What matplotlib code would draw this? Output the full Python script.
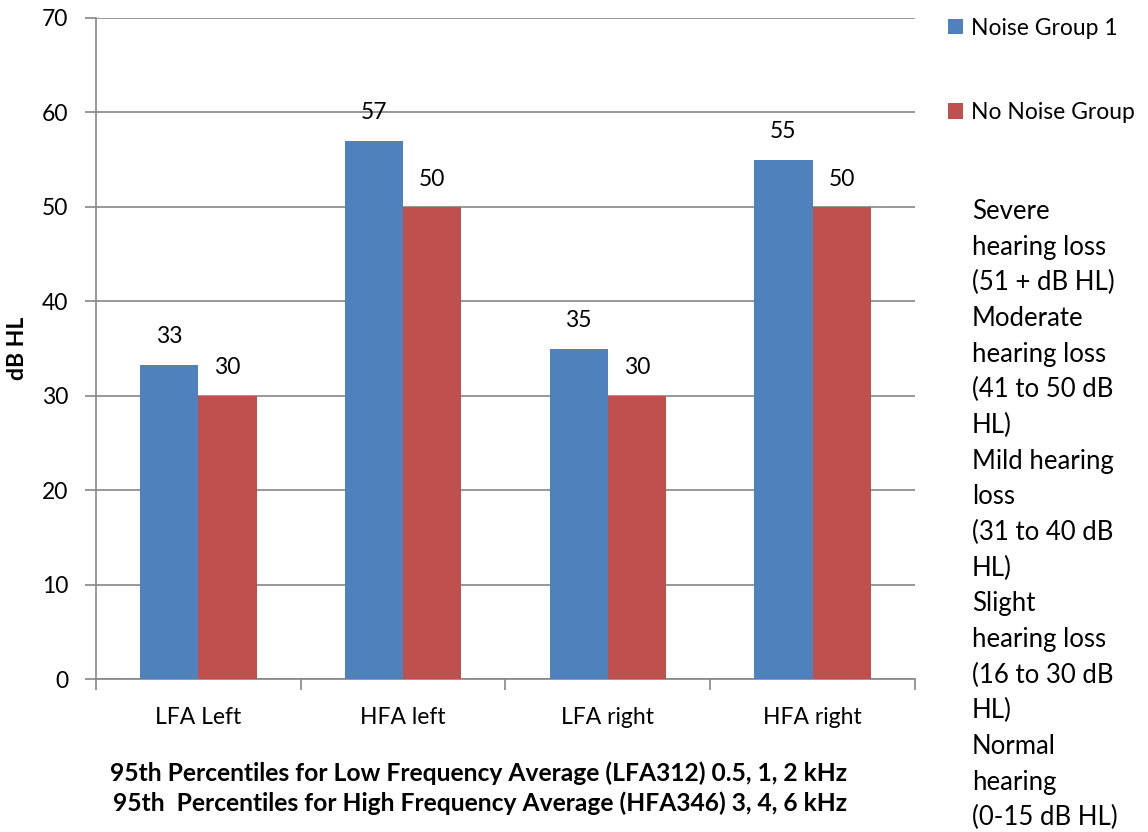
import matplotlib
matplotlib.use("Agg")
import matplotlib.pyplot as plt
import numpy as np

plt.rcParams['font.family'] = ['Lato', 'DejaVu Sans']

# data
categories = ['LFA Left', 'HFA left', 'LFA right', 'HFA right']
noise_group = [33.3, 57, 35, 55]
no_noise_group = [30, 50, 30, 50]
noise_labels = ['33', '57', '35', '55']
no_noise_labels = ['30', '50', '30', '50']
series_names = ['Noise Group 1', 'No Noise Group']
yticks = [0, 10, 20, 30, 40, 50, 60, 70]
severity_text = ("Severe\nhearing loss\n(51 + dB HL)\nModerate\nhearing loss\n(41 to 50 dB\nHL)\n"
                 "Mild hearing\nloss\n(31 to 40 dB\nHL)\nSlight\nhearing loss\n(16 to 30 dB\nHL)\n"
                 "Normal\nhearing\n(0-15 dB HL)")
footer = ["95th Percentiles for Low Frequency Average (LFA312) 0.5, 1, 2 kHz",
          "95th  Percentiles for High Frequency Average (HFA346) 3, 4, 6 kHz"]

blue = '#4F81BD'
red = '#C0504D'
grey = '#868686'
fs = 16.5

fig = plt.figure(figsize=(11.48, 8.32), dpi=100)
ax = fig.add_axes([96 / 1148, 1 - 679 / 832, (915 - 96) / 1148, (679 - 18) / 832])

x = np.arange(len(categories))
w = 0.285
b1 = ax.bar(x - w / 2, noise_group, w, color=blue, label=series_names[0], zorder=3)
b2 = ax.bar(x + w / 2, no_noise_group, w, color=red, label=series_names[1], zorder=3)

for bars, labels in [(b1, noise_labels), (b2, no_noise_labels)]:
    for rect, lab in zip(bars, labels):
        ax.annotate(lab, (rect.get_x() + rect.get_width() / 2, rect.get_height()),
                    xytext=(0, 20), textcoords='offset points', ha='center', va='center',
                    fontsize=fs)

ax.set_xlim(-0.5, len(categories) - 0.5)
ax.set_ylim(0, 70)
ax.set_yticks(yticks)
ax.yaxis.grid(True, color=grey, linewidth=1.2, zorder=0)
ax.set_axisbelow(True)

ax.set_xticks(x)
ax.set_xticklabels(categories, fontsize=fs)
ax.set_xticks(np.arange(-0.5, len(categories)), minor=True)
ax.tick_params(axis='x', which='major', length=0, pad=20)
ax.tick_params(axis='x', which='minor', length=8, color=grey, width=1.2)
ax.tick_params(axis='y', length=8, color=grey, width=1.2, labelsize=fs, pad=12)

for s in ['top', 'right']:
    ax.spines[s].set_visible(False)
for s in ['left', 'bottom']:
    ax.spines[s].set_color(grey)
    ax.spines[s].set_linewidth(1.2)

ax.set_ylabel('dB HL', fontsize=16.5, fontweight='bold', labelpad=10)

ax.legend(loc='upper left', bbox_to_anchor=(927 / 1148, 1 + 3 / 832),
          bbox_transform=fig.transFigure, frameon=False, fontsize=fs,
          handlelength=0.65, handleheight=0.65, handletextpad=0.35, labelspacing=2.77)

fig.text(972 / 1148, 1 - 199 / 832, severity_text, fontsize=18.5, ha='left', va='top',
         linespacing=1.53)

fig.text(479 / 1148, 1 - 773 / 832, footer[0], fontsize=17.7, fontweight='bold', ha='center', va='center')
fig.text(480 / 1148, 1 - 803 / 832, footer[1], fontsize=17.7, fontweight='bold', ha='center', va='center')

fig.savefig('out.png', dpi=100)
